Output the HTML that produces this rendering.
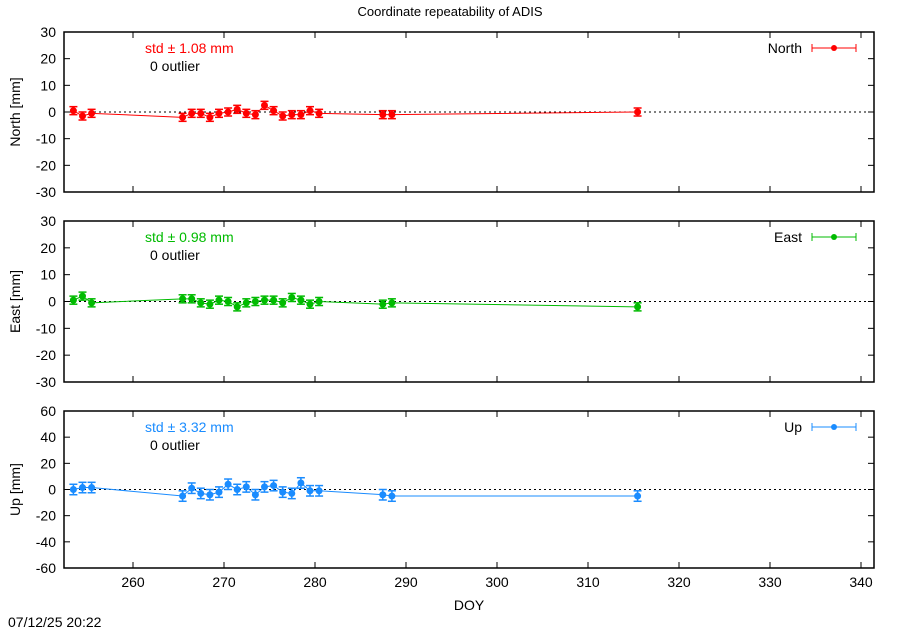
<!DOCTYPE html>
<html><head><meta charset="utf-8"><style>
html,body{margin:0;padding:0;background:#fff;}
svg text{font-family:"Liberation Sans",Arial,sans-serif;font-size:14px;}
</style></head><body>
<svg id="s" width="900" height="630" xmlns="http://www.w3.org/2000/svg"></svg>
<script>
const s=document.getElementById('s');let h='';
const X0=64,X1=874; const xp=d=>133+(d-260)*9.1;
h+=`<text x="450" y="16" text-anchor="middle" style="font-size:13px">Coordinate repeatability of ADIS</text>`;
const days=[253,254,255,265,266,267,268,269,270,271,272,273,274,275,276,277,278,279,280,287,288,315].map(d=>d+0.45);
const P=[
 {t:32,b:192,min:-30,max:30,step:10,lab:'North [mm]',c:'#ff0000',name:'North',std:'1.08',err:1.5,
  v:[0.5,-1.5,-0.5,-2,-0.5,-0.5,-2,-0.5,0,1,-0.5,-1,2.5,0.5,-1.5,-1,-1,0.5,-0.5,-1,-1,0]},
 {t:221,b:382,min:-30,max:30,step:10,lab:'East [mm]',c:'#00bb00',name:'East',std:'0.98',err:1.5,
  v:[0.5,2,-0.5,1,1,-0.5,-1,0.5,0,-2,-0.5,0,0.5,0.5,-0.5,1.5,0.5,-1,0,-1,-0.5,-2]},
 {t:411,b:568,min:-60,max:60,step:20,lab:'Up [mm]',c:'#1a8cff',name:'Up',std:'3.32',err:4,
  v:[0,1.5,1.5,-5,1,-3,-4,-2,4,0,2,-4,2,3,-2,-3,5,-1,-1,-4,-5,-5]}
];
P.forEach(p=>{
 const yp=v=>p.b-(v-p.min)/(p.max-p.min)*(p.b-p.t);
 for(let v=p.min;v<=p.max;v+=p.step){const y=yp(v);
  h+=`<line x1="${X0}" y1="${y}" x2="${X0+6}" y2="${y}" stroke="#000"/><line x1="${X1}" y1="${y}" x2="${X1-6}" y2="${y}" stroke="#000"/>`;
  h+=`<text x="${X0-8}" y="${y+5}" text-anchor="end">${v}</text>`;}
 for(let d=260;d<=340;d+=10){const x=xp(d);
  h+=`<line x1="${x}" y1="${p.b}" x2="${x}" y2="${p.b-6}" stroke="#000"/><line x1="${x}" y1="${p.t}" x2="${x}" y2="${p.t+6}" stroke="#000"/>`;}
 const y0=yp(0);
 h+=`<line x1="${X0}" y1="${y0}" x2="${X1}" y2="${y0}" stroke="#000" stroke-dasharray="2,3"/>`;
 const cy=(p.t+p.b)/2;
 h+=`<text x="20" y="${cy}" text-anchor="middle" transform="rotate(-90 20 ${cy})">${p.lab}</text>`;
 h+=`<text x="145" y="${p.t+21}" fill="${p.c}">std ± ${p.std} mm</text><text x="150" y="${p.t+39}">0 outlier</text>`;
 h+=`<text x="802" y="${p.t+21}" text-anchor="end">${p.name}</text>`;
 const ly=p.t+16;
 h+=`<line x1="812" y1="${ly}" x2="856" y2="${ly}" stroke="${p.c}"/><line x1="812" y1="${ly-4}" x2="812" y2="${ly+4}" stroke="${p.c}"/><line x1="856" y1="${ly-4}" x2="856" y2="${ly+4}" stroke="${p.c}"/><circle cx="834" cy="${ly}" r="3" fill="${p.c}"/>`;
 let pts=days.map((d,i)=>xp(d)+','+yp(p.v[i])).join(' ');
 h+=`<polyline points="${pts}" fill="none" stroke="${p.c}"/>`;
 days.forEach((d,i)=>{const x=xp(d),y=yp(p.v[i]),e=p.err*(p.b-p.t)/(p.max-p.min);
  h+=`<line x1="${x}" y1="${y-e}" x2="${x}" y2="${y+e}" stroke="${p.c}" stroke-width="1.5"/><line x1="${x-4}" y1="${y-e}" x2="${x+4}" y2="${y-e}" stroke="${p.c}" stroke-width="1.5"/><line x1="${x-4}" y1="${y+e}" x2="${x+4}" y2="${y+e}" stroke="${p.c}" stroke-width="1.5"/><circle cx="${x}" cy="${y}" r="3.5" fill="${p.c}"/>`;});
 h+=`<rect x="${X0}" y="${p.t}" width="${X1-X0}" height="${p.b-p.t}" fill="none" stroke="#000" stroke-width="1.5"/>`;
});
for(let d=260;d<=340;d+=10)h+=`<text x="${xp(d)}" y="587" text-anchor="middle">${d}</text>`;
h+=`<text x="469" y="610" text-anchor="middle">DOY</text>`;
h+=`<text x="8" y="627">07/12/25 20:22</text>`;
s.innerHTML=h;
</script>
</body></html>
